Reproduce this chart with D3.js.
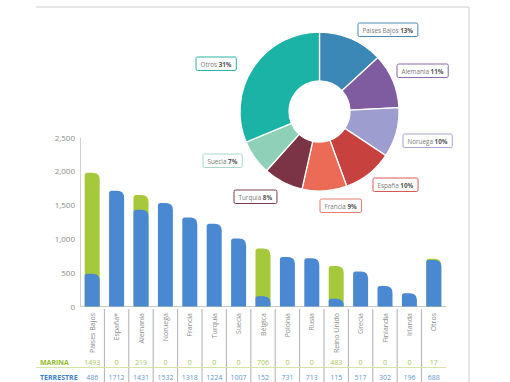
<!DOCTYPE html>
<html><head><meta charset="utf-8">
<script src="https://cdn.jsdelivr.net/npm/d3@7"></script>
<style>
html,body{margin:0;padding:0;background:#fff;}
svg{display:block;font-family:'Open Sans',sans-serif;}
</style></head>
<body><svg id="c" width="510" height="382"></svg>
<script>
const categories = ["Paises Bajos","España*","Alemania","Noruega","Francia","Turquía","Suecia","Bélgica","Polonia","Rusia","Reino Unido","Grecia","Finlandia","Irlanda","Otros"];
const marina = [1493,0,219,0,0,0,0,706,0,0,483,0,0,0,17];
const terrestre = [486,1712,1431,1532,1318,1224,1007,152,731,713,115,517,302,196,688];
const yTicks = [0,500,1000,1500,2000,2500];
const pieLabels = ["Paises Bajos","Alemania","Noruega","España","Francia","Turquía","Suecia","Otros"];
const pieValues = [13,11,10,10,9,8,7,31];
const pieColors = ["#3b87b6","#7e5c9f","#9d9dd0","#c7413f","#eb6b57","#7a3445","#8fd0b8","#1bb3a5"];
const pieBorders = ["#4a8ab8","#8a6aa8","#a5a5cf","#d45a55","#e87b6c","#7e3a4a","#a8d8c8","#2ab5a8"];

const svg = d3.select("#c");
const BLUE = "#4a88d2", GREEN = "#a6c93b";

// frame lines
svg.append("line").attr("x1",36).attr("x2",469).attr("y1",7).attr("y2",7).attr("stroke","#cfcfcf").attr("stroke-width",1);
svg.append("line").attr("x1",469).attr("x2",469).attr("y1",7).attr("y2",382).attr("stroke","#cfcfcf").attr("stroke-width",1);

// scales
const x = d3.scaleBand().domain(categories).range([80,446]).padding(0);
const y = d3.scaleLinear().domain([0,2500]).range([306.5,137.5]);
const bw = 15;

// y axis
const yAxis = svg.append("g").attr("transform","translate(80,0)")
  .call(d3.axisLeft(y).tickValues(yTicks).tickFormat(d3.format(",")).tickSize(0).tickPadding(5));
yAxis.select(".domain").attr("stroke","#d0d0d0");
yAxis.selectAll("text").attr("fill","#8a8a8a").style("font-size","8px").style("font-family","'Open Sans',sans-serif");

// baseline
svg.append("line").attr("x1",80).attr("x2",446).attr("y1",306.5).attr("y2",306.5).attr("stroke","#c8c8c8");

function topRounded(x0, y0, w, h, rl, rr){
  rr = Math.min(rr, h); rl = Math.min(rl, h);
  return `M${x0},${y0+h} L${x0},${y0+rl} Q${x0},${y0} ${x0+rl},${y0} L${x0+w-rr},${y0} Q${x0+w},${y0} ${x0+w},${y0+rr} L${x0+w},${y0+h} Z`;
}
const data = categories.map((c,i)=>({c, m:marina[i], t:terrestre[i]}));
const bars = svg.append("g");
data.forEach(d=>{
  const cx = x(d.c) + x.bandwidth()/2 - bw/2;
  const tot = d.m + d.t;
  if (d.m > 0) {
    bars.append("path").attr("d", topRounded(cx, y(tot), bw, y(0)-y(tot), 2.5, 7)).attr("fill", GREEN);
  }
  bars.append("path").attr("d", topRounded(cx, y(d.t), bw, y(0)-y(d.t), 2.5, 7)).attr("fill", BLUE);
});

// separators
categories.forEach((c,i)=>{
  if (i===0) return;
  svg.append("line").attr("x1",x(c)).attr("x2",x(c)).attr("y1",309).attr("y2",382).attr("stroke","#9a9a9a").attr("stroke-width",0.8);
});

// category labels
categories.forEach(c=>{
  const cx = x(c)+x.bandwidth()/2;
  svg.append("text").attr("transform",`translate(${cx+2.5},313) rotate(-90)`)
    .attr("text-anchor","end").attr("fill","#8a8a8a").style("font-size","7px").text(c);
});

// table
svg.append("line").attr("x1",36).attr("x2",446).attr("y1",367.5).attr("y2",367.5).attr("stroke","#d3e4a4").attr("stroke-width",1);
svg.append("text").attr("x",40).attr("y",364.5).attr("fill","#94bb2e").style("font-size","7px").style("font-weight","bold").text("MARINA");
svg.append("text").attr("x",40).attr("y",379.5).attr("fill","#3f7fcc").style("font-size","7px").style("font-weight","bold").text("TERRESTRE");
data.forEach(d=>{
  const cx = x(d.c)+x.bandwidth()/2;
  svg.append("text").attr("x",cx).attr("y",364.5).attr("text-anchor","middle").attr("fill","#a8c65a").style("font-size","7px").text(d.m);
  svg.append("text").attr("x",cx).attr("y",379.5).attr("text-anchor","middle").attr("fill","#6496d2").style("font-size","7px").text(d.t);
});

// pie
const pcx = 319.5, pcy = 111.5;
const pie = d3.pie().sort(null).value(d=>d)(pieValues);
const arc = d3.arc().innerRadius(30.5).outerRadius(79.5);
const pg = svg.append("g").attr("transform",`translate(${pcx},${pcy})`);
pg.selectAll("path").data(pie).join("path").attr("d",arc)
  .attr("fill",(d,i)=>pieColors[i]).attr("stroke","#fff").attr("stroke-width",1.3);

// pie label boxes (top-left corners)
const boxPos = [[358,23],[397,64],[403,134],[373,178],[320,199],[234,190],[203,154],[196,57]];
pieLabels.forEach((l,i)=>{
  const g = svg.append("g").attr("transform",`translate(${boxPos[i][0]},${boxPos[i][1]})`);
  const rect = g.append("rect").attr("rx",1.5).attr("fill","#fff").attr("stroke",pieBorders[i]).attr("stroke-width",1);
  const t = g.append("text").attr("x",4.5).attr("y",9.5).style("font-size","6.3px").attr("fill","#7a7a7a");
  t.append("tspan").text(l+" ");
  t.append("tspan").attr("font-weight","bold").attr("fill","#555").text(pieValues[i]+"%");
  const bb = t.node().getBBox();
  rect.attr("width",bb.width+9).attr("height",13.5);
});
</script></body></html>
